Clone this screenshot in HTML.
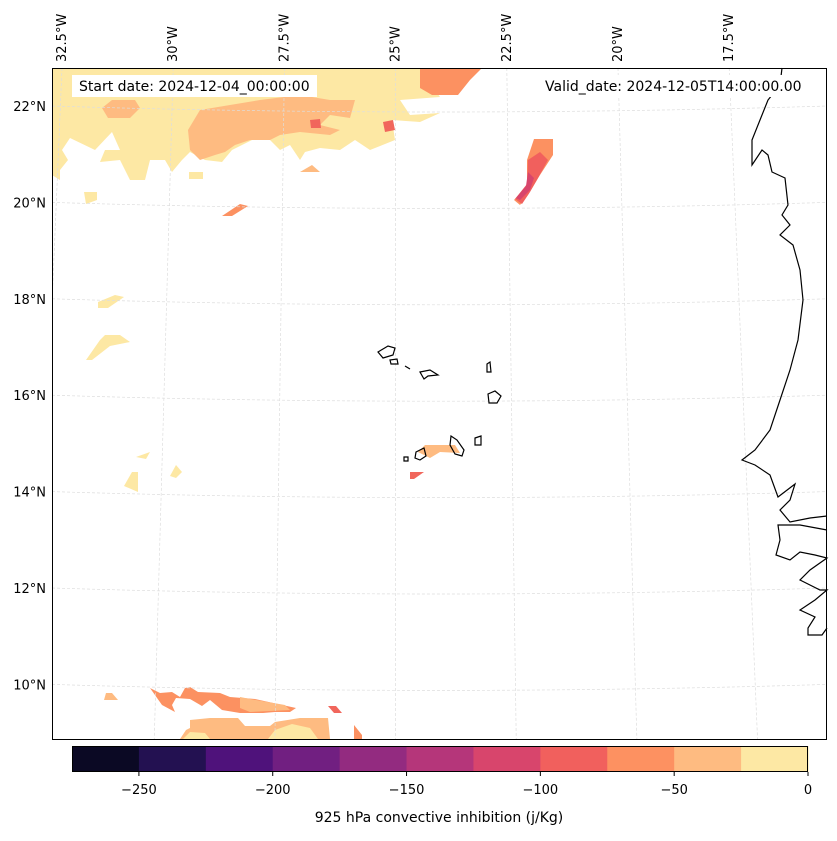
<!DOCTYPE html>
<html><head><meta charset="utf-8"><style>
body{margin:0;background:#fff;font-family:"Liberation Sans","DejaVu Sans",sans-serif}
svg text{font-family:"DejaVu Sans","Liberation Sans",sans-serif;font-size:13px;fill:#000}
svg text.big{font-size:14px}
</style></head><body>
<svg id="c" width="837" height="836" viewBox="0 0 837 836">
<defs><clipPath id="mapclip"><rect x="52" y="68" width="775" height="671"/></clipPath></defs>
<g id="fills" clip-path="url(#mapclip)">
<polygon fill="#fde8a4" points="52,68 420,68 440,97 400,100 410,115 440,113 420,122 392,120 395,140 370,150 355,140 340,150 320,148 305,152 300,160 290,145 280,150 270,140 252,140 232,150 222,162 205,160 190,152 182,160 172,172 165,160 150,160 145,180 130,180 120,160 100,162 105,150 120,150 112,132 95,150 70,138 62,150 68,160 60,170 60,180 52,175"/>
<polygon fill="#febb81" points="188,130 200,110 230,105 260,100 300,95 330,100 355,100 350,118 330,115 320,125 340,130 330,135 300,132 280,135 270,140 250,140 235,145 225,152 215,155 200,160 190,150"/>
<polygon fill="#febb81" points="102,108 112,100 135,100 140,108 130,118 108,118"/>
<polygon fill="#fc9161" points="420,68 482,68 470,80 458,95 432,95 420,88"/>
<polygon fill="#f1665c" points="310,120 320,119 321,128 311,128"/>
<polygon fill="#f1665c" points="383,122 393,120 395,130 385,132"/>
<polygon fill="#fc9161" points="534,139 553,139 553,155 540,175 528,195 520,205 514,200 527,185 527,160"/>
<polygon fill="#f1605d" points="528,160 540,152 548,160 538,178 530,192 522,204 515,199 527,184"/>
<polygon fill="#d8456c" points="528,172 534,178 530,190 520,200 516,198 526,186"/>
<polygon fill="#fde8a4" points="189,172 203,172 203,179 189,179"/>
<polygon fill="#febb81" points="300,172 312,165 320,172"/>
<polygon fill="#fc9161" points="222,216 240,204 248,206 232,216"/>
<polygon fill="#fde8a4" points="84,192 97,192 97,200 86,204"/>
<polygon fill="#fde8a4" points="98,302 115,295 124,297 108,308 98,308"/>
<polygon fill="#fde8a4" points="86,360 100,340 105,335 120,335 130,342 110,346 92,360"/>
<polygon fill="#fde8a4" points="136,457 150,452 146,459"/>
<polygon fill="#fde8a4" points="124,486 132,472 138,472 138,492"/>
<polygon fill="#fde8a4" points="170,476 176,465 182,472 176,478"/>
<polygon fill="#febb81" points="418,452 425,445 455,445 460,453 440,452 430,458"/>
<polygon fill="#f1665c" points="410,472 424,472 414,479 410,479"/>
<polygon fill="#febb81" points="104,700 106,693 112,693 118,700"/>
<polygon fill="#fc9161" points="150,688 160,693 172,692 180,697 185,688 190,687 198,692 220,693 230,697 255,699 296,708 290,712 275,712 263,713 240,713 222,710 210,700 202,706 190,699 176,698 172,705 175,712 162,705"/>
<polygon fill="#febb81" points="240,697 256,700 285,705 290,710 250,712 240,708"/>
<polygon fill="#f1665c" points="328,706 336,706 342,713 334,713"/>
<polygon fill="#febb81" points="190,720 210,718 238,718 245,726 270,726 275,722 300,718 328,718 330,739 180,739 186,730 190,728"/>
<polygon fill="#fde8a4" points="268,739 275,730 292,724 310,728 318,739"/>
<polygon fill="#fde8a4" points="183,739 190,732 205,733 210,739"/>
<polygon fill="#fc9161" points="354,725 362,735 362,739 354,739"/>
</g>
<g id="grid" clip-path="url(#mapclip)" stroke="#ddd" stroke-width="0.7" stroke-dasharray="3,2" fill="none"></g>
<g fill="none" stroke="#000" stroke-width="1.2">
<polyline points="782,68 780,85 768,100 760,120 752,140 752,165 762,150 768,155 772,172 785,178 788,205 782,215 790,225 780,235 793,245 800,270 803,300 798,340 790,370 780,400 770,430 755,450 742,460 755,465 770,475 778,497 795,484 790,500 780,510 790,522 810,518 827,516"/>
<polyline points="827,530 800,525 778,525 780,540 776,555 790,560 800,552 815,555 827,558 810,570 800,580 820,590 827,590 815,600 800,610 815,617 808,628 808,635 822,635 827,628"/>
<path d="M378,352 L388,346 395,348 393,355 383,358 Z"/>
<path d="M390,360 L397,359 398,364 391,364 Z"/>
<path d="M405,366 L410,369"/>
<path d="M420,372 L430,370 438,375 428,376 424,379 Z"/>
<path d="M487,364 L490,362 491,372 487,372 Z"/>
<path d="M488,394 L495,391 501,396 497,403 489,403 Z"/>
<path d="M475,438 L481,436 481,445 475,445 Z"/>
<path d="M451,436 L457,440 464,450 462,456 455,454 450,445 Z"/>
<path d="M416,452 L424,448 426,456 420,460 415,458 Z"/>
<path d="M404,457 L408,457 408,461 404,461 Z"/>
</g>
<rect x="52.5" y="68.5" width="774" height="671" fill="none" stroke="#000" stroke-width="1"/>
<rect x="72" y="75" width="245" height="22" fill="#fff"/>
<text class="big" x="79" y="91">Start date: 2024-12-04_00:00:00</text>
<rect x="538" y="75" width="270" height="22" fill="#fff"/>
<text class="big" x="545" y="91">Valid_date: 2024-12-05T14:00:00.00</text>
<g id="lat"></g>
<g id="lon"></g>
<g id="cbar"></g>
<text class="big" x="439" y="822" text-anchor="middle">925 hPa convective inhibition (j/Kg)</text>
</svg>
<script>
const cbarBounds=[-275,-250,-225,-200,-175,-150,-125,-100,-75,-50,-25,0];
const cbarColors=["#0b0924","#231151","#4f127b","#711f81","#932b80","#b5367a","#d8456c","#f1605d","#fd9161","#febb81","#fde8a4"];
const cbarTicks=[-250,-200,-150,-100,-50,0];
const latTicks=[22,20,18,16,14,12,10];
const lonTicks=[32.5,30,27.5,25,22.5,20,17.5];
const NS="http://www.w3.org/2000/svg";
function mk(t,a,p){const e=document.createElementNS(NS,t);for(const k in a)e.setAttribute(k,a[k]);p.appendChild(e);return e;}
const cx=v=>72+(v+275)/275*736;
const cb=document.getElementById('cbar');
for(let i=0;i<cbarColors.length;i++){
 const r=mk('rect',{x:cx(cbarBounds[i]),y:746,width:cx(cbarBounds[i+1])-cx(cbarBounds[i])+0.5,height:26,fill:cbarColors[i]},cb);
 
 
}
const fr=mk('rect',{x:72.5,y:746.5,width:735,height:25,fill:'none',stroke:'#000'},cb);


cbarTicks.forEach(v=>{
 mk('line',{x1:cx(v),x2:cx(v),y1:772,y2:776,stroke:'#000'},cb);
 const t=mk('text',{x:cx(v),y:794,'text-anchor':'middle'},cb);t.textContent=(v<0?'\u2212'+(-v):v);
 
 
});
const latY=v=>106+(22-v)*48.2;
const lonX=v=>62+(32.5-v)/2.5*111.2;
const g=document.getElementById('grid'),la=document.getElementById('lat'),lo=document.getElementById('lon');
latTicks.forEach(v=>{
 const y=latY(v);
 const l=mk('path',{d:`M52,${y} Q440,${y+12} 827,${y}`},g);
 
 
 const t=mk('text',{x:46,y:y+5,'text-anchor':'end'},la);t.textContent=v+'°N';
 
 
});
lonTicks.forEach(v=>{
 const x=lonX(v);
 const xb=396+(x-396)*1.085;
 const l=mk('line',{x1:x,y1:68,x2:xb,y2:739},g);
 
 
 const t=mk('text',{x:x+4,y:62,transform:`rotate(-90 ${x+4} 62)`},lo);t.textContent=v+'°W';
 
 
});
</script>
</body></html>
